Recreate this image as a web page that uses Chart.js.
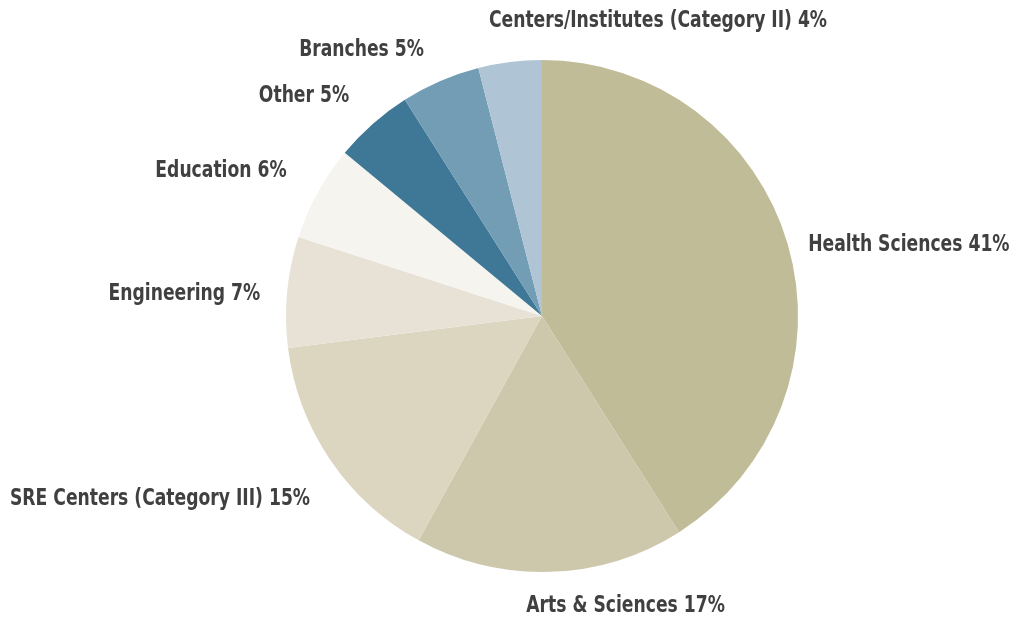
<!DOCTYPE html>
<html>
<head>
<meta charset="utf-8">
<script src="https://cdn.jsdelivr.net/npm/chart.js@4"></script>
<style>
  html, body { margin: 0; padding: 0; background: #ffffff; }
  #wrap { width: 1013px; height: 624px; }
</style>
</head>
<body>
<div id="wrap"><canvas id="chart0" width="1013" height="624"></canvas></div>
<script>
// slice names and shares (percent), clockwise from 12 o'clock
const categories = [
  'Health Sciences',
  'Arts & Sciences',
  'SRE Centers (Category III)',
  'Engineering',
  'Education',
  'Other',
  'Branches',
  'Centers/Institutes (Category II)'
];
const shares = [41, 17, 15, 7, 6, 5, 5, 4];

const sliceColors = [
  '#c1bc98', '#cdc8ab', '#dcd6c0', '#e8e2d6',
  '#f5f4ef', '#3e7896', '#739db5', '#afc5d5'
];

// label placement: alignment + nudge from the default anchor just outside the arc
const labelLayout = [
  { align: 'left',   dx: 5,   dy: 5 },
  { align: 'center', dx: 75,  dy: 18 },
  { align: 'right',  dx: -7,  dy: 30 },
  { align: 'right',  dx: -11, dy: 4 },
  { align: 'right',  dx: -17, dy: -14 },
  { align: 'right',  dx: -13, dy: -16 },
  { align: 'right',  dx: -10, dy: -16 },
  { align: 'left',   dx: -19, dy: -25 }
];

const outsideLabels = {
  id: 'outsideLabels',
  afterDatasetsDraw(chart, args, opts) {
    const ctx = chart.ctx;
    const meta = chart.getDatasetMeta(0);
    const ds = chart.data.datasets[0];
    meta.data.forEach((arc, i) => {
      const p = arc.getProps(['x', 'y', 'startAngle', 'endAngle', 'outerRadius'], true);
      const mid = (p.startAngle + p.endAngle) / 2;
      const r = p.outerRadius + opts.gap;
      const lay = labelLayout[i];
      const x = p.x + Math.cos(mid) * r + lay.dx;
      const y = p.y + Math.sin(mid) * r + lay.dy;
      ctx.save();
      ctx.font = opts.font;
      ctx.fillStyle = opts.color;
      ctx.textBaseline = 'middle';
      ctx.textAlign = lay.align;
      // squeeze horizontally to get a narrow, Gill Sans-like look
      ctx.translate(x, y);
      ctx.scale(opts.squeeze, 1);
      ctx.fillText(chart.data.labels[i] + ' ' + ds.data[i] + '%', 0, 0);
      ctx.restore();
    });
  }
};

let myChart_pie = makeChart('chart0');

function makeChart(container) {
  let ctx = document.getElementById(container).getContext('2d');
  return new Chart(ctx, {
    type: 'pie',
    data: {
      labels: categories,
      datasets: [{
        data: shares,
        backgroundColor: sliceColors,
        borderWidth: 0
      }]
    },
    options: {
      responsive: false,
      animation: false,
      layout: {
        padding: { left: 286, right: 215, top: 60, bottom: 52 }
      },
      plugins: {
        legend: { display: false },
        tooltip: { enabled: false },
        outsideLabels: {
          font: 'bold 23px "DejaVu Sans Condensed", sans-serif',
          color: '#404040',
          gap: 16,
          squeeze: 0.83
        }
      }
    },
    plugins: [outsideLabels]
  });
}
</script>
</body>
</html>
